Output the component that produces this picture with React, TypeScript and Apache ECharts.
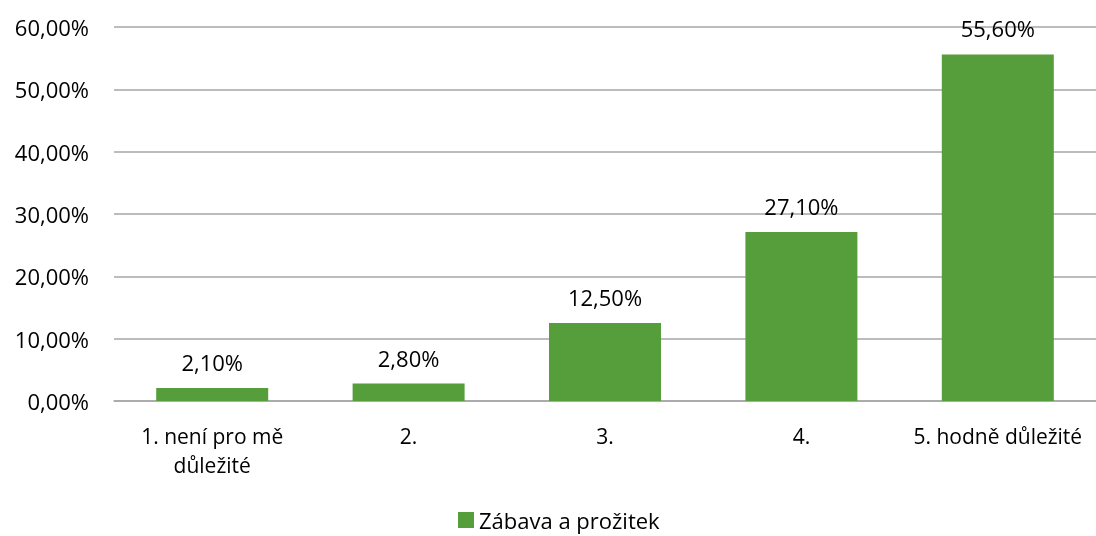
import React, { useEffect, useRef } from "react";
import * as echarts from "echarts";

const categories = ["1. není pro mě\ndůležité", "2.", "3.", "4.", "5. hodně důležité"];
const values = [2.1, 2.8, 12.5, 27.1, 55.6];
const seriesName = "Zábava a prožitek";

const fmt = (v: number) => v.toFixed(2).replace(".", ",") + "%";
const FONT = "Open Sans";

export default function App() {
  const ref = useRef<HTMLDivElement>(null);
  useEffect(() => {
    const chart = echarts.init(ref.current!, null, { renderer: "svg" });
    chart.setOption({
      animation: false,
      textStyle: { fontFamily: FONT },
      grid: { left: 114, right: 0, top: 27, bottom: 135 },
      legend: {
        top: 509,
        padding: [0, 5, 0, 5],
        left: 453,
        itemWidth: 16,
        itemHeight: 16,
        itemGap: 10,
        icon: "rect",
        textStyle: { fontFamily: FONT, fontSize: 22, color: "#000" },
        data: [seriesName],
      },
      xAxis: {
        type: "category",
        data: categories,
        axisLine: { lineStyle: { color: "#a6a6a6", width: 1.5 } },
        axisTick: { show: false },
        axisLabel: { fontFamily: FONT, fontSize: 21, color: "#000", lineHeight: 29, margin: 20, interval: 0 },
      },
      yAxis: {
        type: "value",
        min: 0,
        max: 60,
        interval: 10,
        axisLine: { show: false },
        axisTick: { show: false },
        splitLine: { lineStyle: { color: "#a6a6a6", width: 1.5 } },
        axisLabel: { fontFamily: FONT, fontSize: 22, color: "#000", margin: 25, formatter: (v: number) => fmt(v) },
      },
      series: [
        {
          name: seriesName,
          type: "bar",
          data: values,
          barWidth: 112,
          itemStyle: { color: "#559e3b" },
          label: {
            show: true,
            position: "top",
            distance: 15,
            fontFamily: FONT,
            fontSize: 22,
            color: "#000",
            formatter: (p: any) => fmt(p.value),
          },
        },
      ],
    });
    return () => chart.dispose();
  }, []);
  return (
    <div
      ref={ref}
      style={{ width: 1096, height: 536, position: "fixed", left: 0, top: 0 }}
    />
  );
}
